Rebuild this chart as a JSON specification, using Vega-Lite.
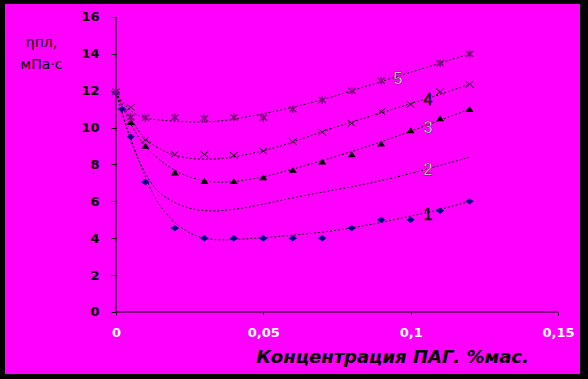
{
  "$schema": "https://vega.github.io/schema/vega-lite/v6.json",
  "width": 575,
  "height": 370,
  "autosize": "none",
  "padding": {"left": 5, "top": 4, "right": 8, "bottom": 5},
  "background": "black",
  "config": {
    "view": {"fill": "#FF00FF", "stroke": null},
    "font": "DejaVu Sans"
  },
  "datasets": {
    "axes": [
      {"x": 0, "y": 0, "x2": 0.15, "y2": 0},
      {"x": 0, "y": 0, "x2": 0, "y2": 16}
    ],
    "curves": [
      {"s": "1", "x": 0, "y": 11.9}, {"s": "1", "x": 0.0025, "y": 10.6}, {"s": "1", "x": 0.005, "y": 9.4}, {"s": "1", "x": 0.0075, "y": 8.3}, {"s": "1", "x": 0.01, "y": 7.3}, {"s": "1", "x": 0.0125, "y": 6.4}, {"s": "1", "x": 0.015, "y": 5.7}, {"s": "1", "x": 0.02, "y": 4.8}, {"s": "1", "x": 0.025, "y": 4.25}, {"s": "1", "x": 0.03, "y": 3.97}, {"s": "1", "x": 0.035, "y": 3.9}, {"s": "1", "x": 0.04, "y": 3.93}, {"s": "1", "x": 0.05, "y": 4.02}, {"s": "1", "x": 0.06, "y": 4.16}, {"s": "1", "x": 0.07, "y": 4.32}, {"s": "1", "x": 0.08, "y": 4.55}, {"s": "1", "x": 0.09, "y": 4.85}, {"s": "1", "x": 0.1, "y": 5.2}, {"s": "1", "x": 0.11, "y": 5.55}, {"s": "1", "x": 0.12, "y": 6.0},
      {"s": "2", "x": 0, "y": 11.9}, {"s": "2", "x": 0.0025, "y": 10.5}, {"s": "2", "x": 0.005, "y": 9.3}, {"s": "2", "x": 0.0075, "y": 8.3}, {"s": "2", "x": 0.01, "y": 7.5}, {"s": "2", "x": 0.0125, "y": 6.85}, {"s": "2", "x": 0.015, "y": 6.4}, {"s": "2", "x": 0.02, "y": 5.9}, {"s": "2", "x": 0.025, "y": 5.6}, {"s": "2", "x": 0.03, "y": 5.48}, {"s": "2", "x": 0.035, "y": 5.48}, {"s": "2", "x": 0.04, "y": 5.56}, {"s": "2", "x": 0.045, "y": 5.68}, {"s": "2", "x": 0.05, "y": 5.85}, {"s": "2", "x": 0.06, "y": 6.2}, {"s": "2", "x": 0.07, "y": 6.5}, {"s": "2", "x": 0.08, "y": 6.78}, {"s": "2", "x": 0.09, "y": 7.12}, {"s": "2", "x": 0.1, "y": 7.5}, {"s": "2", "x": 0.11, "y": 7.95}, {"s": "2", "x": 0.12, "y": 8.4},
      {"s": "3", "x": 0, "y": 11.9}, {"s": "3", "x": 0.0025, "y": 11.0}, {"s": "3", "x": 0.005, "y": 10.2}, {"s": "3", "x": 0.0075, "y": 9.5}, {"s": "3", "x": 0.01, "y": 8.95}, {"s": "3", "x": 0.015, "y": 8.2}, {"s": "3", "x": 0.02, "y": 7.65}, {"s": "3", "x": 0.025, "y": 7.3}, {"s": "3", "x": 0.03, "y": 7.1}, {"s": "3", "x": 0.035, "y": 7.02}, {"s": "3", "x": 0.04, "y": 7.05}, {"s": "3", "x": 0.05, "y": 7.3}, {"s": "3", "x": 0.06, "y": 7.75}, {"s": "3", "x": 0.07, "y": 8.2}, {"s": "3", "x": 0.08, "y": 8.7}, {"s": "3", "x": 0.09, "y": 9.22}, {"s": "3", "x": 0.1, "y": 9.8}, {"s": "3", "x": 0.11, "y": 10.4}, {"s": "3", "x": 0.12, "y": 11.0},
      {"s": "4", "x": 0, "y": 11.9}, {"s": "4", "x": 0.0025, "y": 11.1}, {"s": "4", "x": 0.005, "y": 10.5}, {"s": "4", "x": 0.0075, "y": 9.85}, {"s": "4", "x": 0.01, "y": 9.35}, {"s": "4", "x": 0.015, "y": 8.8}, {"s": "4", "x": 0.02, "y": 8.48}, {"s": "4", "x": 0.025, "y": 8.32}, {"s": "4", "x": 0.03, "y": 8.28}, {"s": "4", "x": 0.035, "y": 8.3}, {"s": "4", "x": 0.04, "y": 8.4}, {"s": "4", "x": 0.05, "y": 8.72}, {"s": "4", "x": 0.06, "y": 9.2}, {"s": "4", "x": 0.07, "y": 9.8}, {"s": "4", "x": 0.08, "y": 10.3}, {"s": "4", "x": 0.09, "y": 10.8}, {"s": "4", "x": 0.1, "y": 11.3}, {"s": "4", "x": 0.11, "y": 11.8}, {"s": "4", "x": 0.12, "y": 12.35},
      {"s": "5", "x": 0, "y": 11.9}, {"s": "5", "x": 0.0025, "y": 11.3}, {"s": "5", "x": 0.005, "y": 10.9}, {"s": "5", "x": 0.0075, "y": 10.65}, {"s": "5", "x": 0.01, "y": 10.5}, {"s": "5", "x": 0.015, "y": 10.4}, {"s": "5", "x": 0.02, "y": 10.35}, {"s": "5", "x": 0.025, "y": 10.3}, {"s": "5", "x": 0.03, "y": 10.3}, {"s": "5", "x": 0.035, "y": 10.35}, {"s": "5", "x": 0.04, "y": 10.45}, {"s": "5", "x": 0.045, "y": 10.6}, {"s": "5", "x": 0.05, "y": 10.75}, {"s": "5", "x": 0.06, "y": 11.1}, {"s": "5", "x": 0.07, "y": 11.5}, {"s": "5", "x": 0.08, "y": 12.0}, {"s": "5", "x": 0.09, "y": 12.5}, {"s": "5", "x": 0.1, "y": 13.0}, {"s": "5", "x": 0.11, "y": 13.5}, {"s": "5", "x": 0.12, "y": 14.0}
    ],
    "points": [
      {"s": "1", "x": 0, "y": 11.9}, {"s": "1", "x": 0.002, "y": 11.0}, {"s": "1", "x": 0.005, "y": 9.5}, {"s": "1", "x": 0.01, "y": 7.05}, {"s": "1", "x": 0.02, "y": 4.55}, {"s": "1", "x": 0.03, "y": 4.0}, {"s": "1", "x": 0.04, "y": 4.0}, {"s": "1", "x": 0.05, "y": 4.0}, {"s": "1", "x": 0.06, "y": 4.0}, {"s": "1", "x": 0.07, "y": 4.0}, {"s": "1", "x": 0.08, "y": 4.55}, {"s": "1", "x": 0.09, "y": 5.0}, {"s": "1", "x": 0.1, "y": 5.0}, {"s": "1", "x": 0.11, "y": 5.5}, {"s": "1", "x": 0.12, "y": 6.0},
      {"s": "3", "x": 0.005, "y": 10.3}, {"s": "3", "x": 0.01, "y": 9.0}, {"s": "3", "x": 0.02, "y": 7.55}, {"s": "3", "x": 0.03, "y": 7.1}, {"s": "3", "x": 0.04, "y": 7.1}, {"s": "3", "x": 0.05, "y": 7.3}, {"s": "3", "x": 0.06, "y": 7.7}, {"s": "3", "x": 0.07, "y": 8.15}, {"s": "3", "x": 0.08, "y": 8.55}, {"s": "3", "x": 0.09, "y": 9.13}, {"s": "3", "x": 0.1, "y": 9.84}, {"s": "3", "x": 0.11, "y": 10.5}, {"s": "3", "x": 0.12, "y": 11.0},
      {"s": "4", "x": 0.005, "y": 11.1}, {"s": "4", "x": 0.01, "y": 9.33}, {"s": "4", "x": 0.02, "y": 8.55}, {"s": "4", "x": 0.03, "y": 8.55}, {"s": "4", "x": 0.04, "y": 8.5}, {"s": "4", "x": 0.05, "y": 8.73}, {"s": "4", "x": 0.06, "y": 9.24}, {"s": "4", "x": 0.07, "y": 9.75}, {"s": "4", "x": 0.08, "y": 10.23}, {"s": "4", "x": 0.09, "y": 10.87}, {"s": "4", "x": 0.1, "y": 11.26}, {"s": "4", "x": 0.11, "y": 11.95}, {"s": "4", "x": 0.12, "y": 12.35},
      {"s": "5", "x": 0, "y": 11.95}, {"s": "5", "x": 0.005, "y": 10.56}, {"s": "5", "x": 0.01, "y": 10.54}, {"s": "5", "x": 0.02, "y": 10.56}, {"s": "5", "x": 0.03, "y": 10.5}, {"s": "5", "x": 0.04, "y": 10.56}, {"s": "5", "x": 0.05, "y": 10.54}, {"s": "5", "x": 0.06, "y": 11.0}, {"s": "5", "x": 0.07, "y": 11.5}, {"s": "5", "x": 0.08, "y": 12.0}, {"s": "5", "x": 0.09, "y": 12.55}, {"s": "5", "x": 0.11, "y": 13.5}, {"s": "5", "x": 0.12, "y": 14.0}
    ],
    "labels": [
      {"label": "5", "x": 0.0957, "y": 12.64},
      {"label": "4", "x": 0.1059, "y": 11.5},
      {"label": "3", "x": 0.1059, "y": 9.98},
      {"label": "2", "x": 0.1059, "y": 7.7},
      {"label": "1", "x": 0.1059, "y": 5.26}
    ]
  },
  "encoding": {
    "x": {
      "field": "x", "type": "quantitative",
      "scale": {"domain": [-0.03767, 0.15747], "nice": false, "zero": false},
      "axis": {
        "orient": "bottom", "offset": -62, "values": [0, 0.05, 0.1, 0.15],
        "domain": false, "grid": false, "tickSize": 3, "tickColor": "black",
        "labelPadding": 11, "labelColor": "white", "labelFont": "DejaVu Sans", "labelFontSize": 13, "labelFontWeight": "bold",
        "labelExpr": "replace(format(datum.value, '~g'), '.', ',')", "labelFlush": false, "labelOverlap": false,
        "title": "Концентрация ПАГ. %мас.", "titleFont": "DejaVu Sans", "titleFontSize": 18, "titleFontWeight": "bold", "titleFontStyle": "italic",
        "titleColor": "black", "titleX": 387, "titleY": 50, "titleAlign": "center", "titleBaseline": "alphabetic", "titleAnchor": null
      }
    },
    "y": {
      "field": "y", "type": "quantitative",
      "scale": {"domain": [-3.363, 16.705], "nice": false, "zero": false},
      "axis": {
        "orient": "left", "offset": -111, "values": [0, 2, 4, 6, 8, 10, 12, 14, 16],
        "domain": false, "grid": false, "tickSize": 5, "tickColor": "black",
        "labelPadding": 12, "labelColor": "black", "labelFont": "DejaVu Sans", "labelFontSize": 13, "labelFontWeight": "bold",
        "title": ["ηпл,", "мПа·с"], "titleFont": "DejaVu Sans", "titleFontSize": 14, "titleFontWeight": "normal", "titleColor": "black",
        "titleAngle": 0, "titleX": -75, "titleY": 42, "titleAlign": "center", "titleBaseline": "alphabetic", "titleLineHeight": 22, "titleAnchor": null
      }
    }
  },
  "layer": [
    {
      "data": {"name": "axes"},
      "mark": {"type": "rule", "color": "black", "strokeWidth": 1},
      "encoding": {"x2": {"field": "x2"}, "y2": {"field": "y2"}}
    },
    {
      "data": {"name": "curves"},
      "mark": {"type": "line", "interpolate": "basis", "color": "black", "strokeWidth": 1, "strokeDash": [2, 2]},
      "encoding": {"detail": {"field": "s"}}
    },
    {
      "data": {"name": "points"},
      "transform": [{"filter": "datum.s === '1'"}],
      "mark": {"type": "point", "shape": "M-1,0L0,-0.75L1,0L0,0.75Z", "size": 72, "filled": true, "color": "#000080", "opacity": 1}
    },
    {
      "data": {"name": "points"},
      "transform": [{"filter": "datum.s === '3'"}],
      "mark": {"type": "point", "shape": "M-1,0.7L1,0.7L0,-0.8Z", "size": 64, "filled": true, "color": "black", "opacity": 1}
    },
    {
      "data": {"name": "points"},
      "transform": [{"filter": "datum.s === '4'"}],
      "mark": {"type": "point", "shape": "M-1,-0.8L1,0.8M-1,0.8L1,-0.8", "size": 64, "filled": false, "color": "#200020", "strokeWidth": 1, "opacity": 1}
    },
    {
      "data": {"name": "points"},
      "transform": [{"filter": "datum.s === '5'"}],
      "mark": {"type": "point", "shape": "M-1,-0.8L1,0.8M-1,0.8L1,-0.8M0,-1L0,1", "size": 56, "filled": false, "color": "#800080", "strokeWidth": 1.5, "opacity": 1}
    },
    {
      "data": {"name": "labels"},
      "mark": {"type": "text", "font": "Liberation Sans", "fontSize": 16, "align": "center", "baseline": "middle", "stroke": "black", "strokeWidth": 0.4},
      "encoding": {
        "text": {"field": "label"},
        "color": {"condition": {"test": "datum.label === '4' || datum.label === '1'", "value": "black"}, "value": "white"}
      }
    }
  ]
}
